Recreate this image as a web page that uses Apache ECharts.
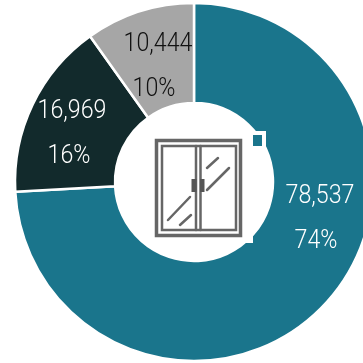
<!DOCTYPE html>
<html>
<head>
<meta charset="utf-8">
<style>html,body{margin:0;padding:0;background:#fff}#c{width:363px;height:363px}</style>
<script src="https://cdn.jsdelivr.net/npm/echarts@6/dist/echarts.min.js"></script>
</head>
<body>
<div id="c"></div>
<script>
// Door type shares: counts and their rounded percentages, largest first.
const counts = [78537, 16969, 10444];
const shares = ['74%', '16%', '10%'];
const sliceColors = ['#1a758c', '#122a2c', '#a6a6a6'];
const labelColors = ['#ffffff', '#ffffff', '#111111'];
const countAnchors = [[320, 197], [72, 112], [158, 45]];
const shareAnchors = [[316, 242], [69, 157], [154, 90]];

const iconGrey = '#666666';
const line = (x1, y1, x2, y2, w) => ({
  type: 'line',
  shape: { x1, y1, x2, y2 },
  style: { stroke: iconGrey, lineWidth: w, lineCap: 'round' }
});
const box = (x, y, width, height, w) => ({
  type: 'rect',
  shape: { x, y, width, height },
  style: { fill: 'none', stroke: iconGrey, lineWidth: w }
});
const solid = (x, y, width, height, fill) => ({
  type: 'rect',
  shape: { x, y, width, height },
  style: { fill }
});
// Condensed light numerals: Roboto Light narrowed horizontally around its anchor.
const caption = (text, pos, fill) => ({
  type: 'text',
  x: pos[0],
  y: pos[1],
  scaleX: 0.91,
  style: {
    text,
    x: 0,
    y: 0,
    fill,
    align: 'center',
    verticalAlign: 'middle',
    fontFamily: 'Roboto',
    fontWeight: 300,
    fontSize: 25.5
  }
});

const chart = echarts.init(document.getElementById('c'), null, { renderer: 'canvas' });
chart.setOption({
  backgroundColor: '#ffffff',
  animation: false,
  series: [{
    type: 'pie',
    center: [194, 182],
    radius: [79, 179],
    startAngle: 90,
    clockwise: true,
    avoidLabelOverlap: false,
    itemStyle: { borderColor: '#ffffff', borderWidth: 2.5 },
    label: { show: false },
    labelLine: { show: false },
    data: counts.map((value, i) => ({
      value,
      name: shares[i],
      itemStyle: { color: sliceColors[i] }
    }))
  }],
  graphic: [
    // Small tag on the rim of the hole
    solid(248, 131, 18, 18, '#ffffff'),
    solid(253, 135, 9, 11, sliceColors[0]),
    solid(243, 233, 10, 10, '#ffffff'),
    // Sliding door icon
    box(156.5, 140.5, 84, 95, 3.5),
    box(162, 146, 74, 84, 2.5),
    line(196, 146, 196, 230, 2.5),
    line(200.5, 146, 200.5, 230, 2.5),
    solid(191.5, 179, 5, 13, '#555555'),
    solid(200, 179, 4.5, 13, '#555555'),
    line(168, 220, 190, 197, 2.5),
    line(180, 225, 191, 215, 2.5),
    line(207, 190, 229, 168, 2.5),
    line(207, 168, 218, 158, 2.5),
    // Count and share captions on each slice
    ...counts.map((v, i) => caption(v.toLocaleString('en-US'), countAnchors[i], labelColors[i])),
    ...shares.map((s, i) => caption(s, shareAnchors[i], labelColors[i]))
  ].map(g => ({ ...g, silent: true, z: 10 }))
});
</script>
</body>
</html>
